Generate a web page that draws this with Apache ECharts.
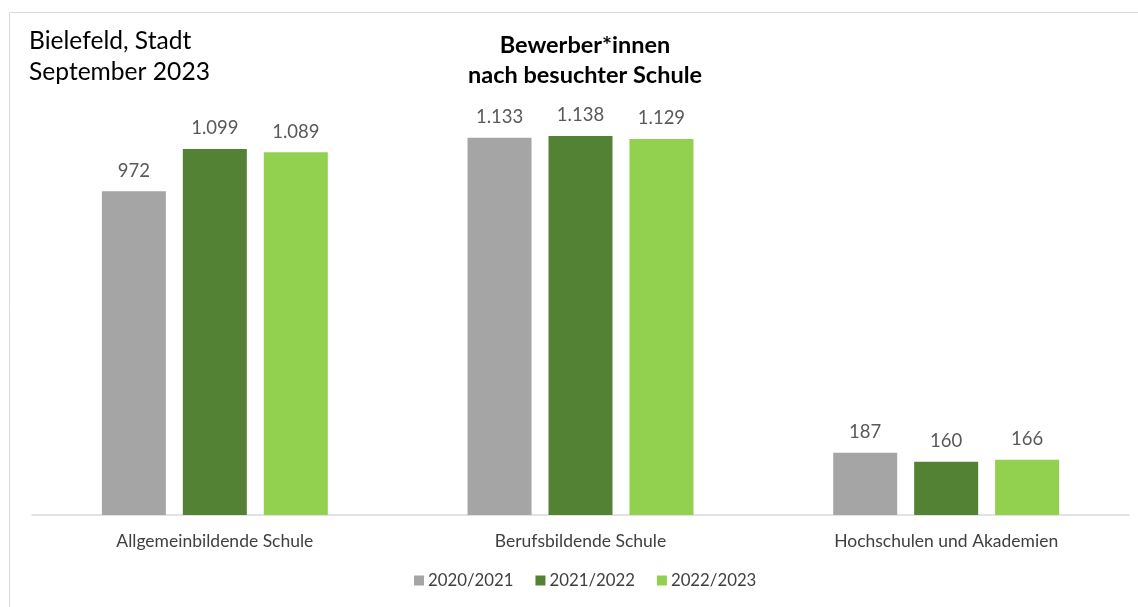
<!DOCTYPE html>
<html>
<head>
<meta charset="utf-8">
<script src="https://cdn.jsdelivr.net/npm/echarts@6/dist/echarts.min.js"></script>
<style>
  html, body { margin: 0; padding: 0; background: #fff; }
  #chart { width: 1138px; height: 607px; }
</style>
</head>
<body>
<div id="chart"></div>
<script>
const categories = ['Allgemeinbildende Schule', 'Berufsbildende Schule', 'Hochschulen und Akademien'];
const seriesNames = ['2020/2021', '2021/2022', '2022/2023'];
const values2020 = [972, 1133, 187];
const values2021 = [1099, 1138, 160];
const values2022 = [1089, 1129, 166];
const seriesColors = ['#A5A5A5', '#548235', '#92D050'];

const FONT = 'Lato, "Open Sans", sans-serif';

const formatDe = (v) => v.toLocaleString('de-DE');

const chart = echarts.init(document.getElementById('chart'), null, { renderer: 'canvas' });

const makeSeries = (name, data, color) => ({
  name,
  type: 'bar',
  data,
  barWidth: 64,
  barGap: '26.5%',
  itemStyle: { color },
  label: {
    show: true,
    position: 'top',
    distance: 11,
    color: '#595959',
    fontFamily: FONT,
    fontSize: 18.5,
    formatter: (p) => formatDe(p.value),
  },
});

chart.setOption({
  animation: false,
  backgroundColor: '#ffffff',
  textStyle: { fontFamily: FONT },
  graphic: [
    {
      type: 'rect',
      shape: { x: 9.5, y: 12.5, width: 1200, height: 700 },
      style: { fill: 'none', stroke: '#D9D9D9', lineWidth: 1 },
      silent: true,
    },
    {
      type: 'text',
      left: 29,
      top: 26,
      style: {
        text: 'Bielefeld, Stadt\nSeptember 2023',
        font: '24.6px ' + FONT,
        fill: '#000000',
        lineHeight: 31,
      },
    },
  ],
  title: {
    text: 'Bewerber*innen\nnach besuchter Schule',
    left: 580,
    textAlign: 'center',
    top: 25,
    textStyle: {
      fontFamily: FONT,
      fontSize: 23.5,
      fontWeight: 'bold',
      color: '#000000',
      lineHeight: 30,
    },
  },
  legend: {
    data: seriesNames,
    bottom: 13,
    left: 409,
    itemWidth: 10,
    itemHeight: 10,
    itemGap: 22,
    icon: 'rect',
    textStyle: { fontFamily: FONT, fontSize: 16.8, color: '#404040', padding: [0, 0, 0, -1] },
  },
  grid: { left: 32, right: 9, top: 48.7, bottom: 92, containLabel: false },
  xAxis: {
    type: 'category',
    data: categories,
    axisLine: { lineStyle: { color: '#D9D9D9', width: 1.5 } },
    axisTick: { show: false },
    axisLabel: { color: '#404040', fontFamily: FONT, fontSize: 17.5, margin: 17 },
  },
  yAxis: {
    type: 'value',
    min: 0,
    max: 1400,
    show: false,
    splitLine: { show: false },
  },
  series: [
    makeSeries(seriesNames[0], values2020, seriesColors[0]),
    makeSeries(seriesNames[1], values2021, seriesColors[1]),
    makeSeries(seriesNames[2], values2022, seriesColors[2]),
  ],
});
</script>
</body>
</html>
